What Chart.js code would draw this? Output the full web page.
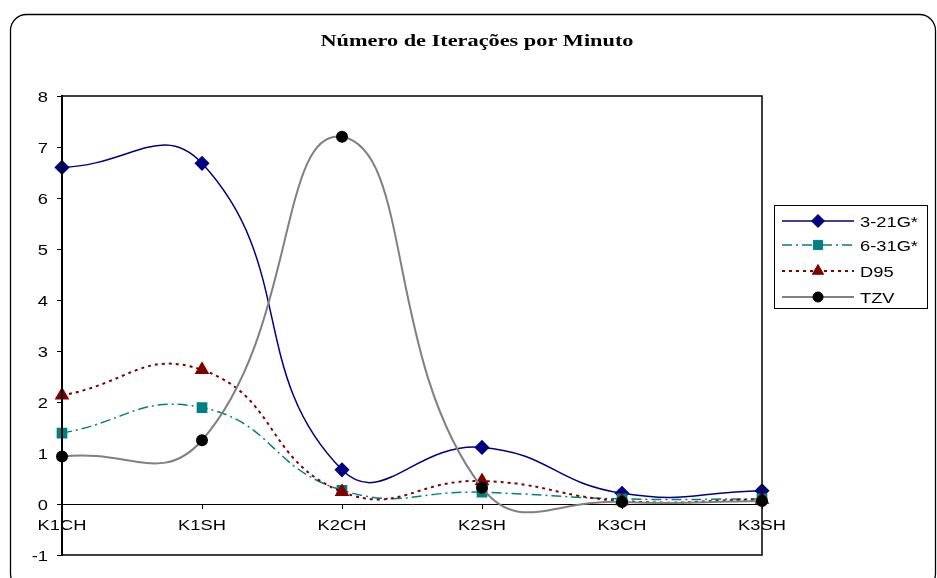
<!DOCTYPE html>
<html>
<head>
<meta charset="utf-8">
<script src="https://cdn.jsdelivr.net/npm/chart.js@4/dist/chart.umd.min.js"></script>
<style>
html,body{margin:0;padding:0;background:#fff;}
#wrap{width:937px;height:578px;position:relative;}
</style>
</head>
<body>
<div id="wrap"><canvas id="c" width="937" height="578"></canvas></div>
<script>
const chartTitle = 'Número de Iterações por Minuto';
const categories = ['K1CH', 'K1SH', 'K2CH', 'K2SH', 'K3CH', 'K3SH'];
const seriesNames = ['3-21G*', '6-31G*', 'D95', 'TZV'];
const values321 = [6.60, 6.68, 0.67, 1.11, 0.21, 0.26];
const values631 = [1.39, 1.89, 0.27, 0.23, 0.10, 0.10];
const valuesD95 = [2.13, 2.63, 0.24, 0.45, 0.06, 0.09];
const valuesTZV = [0.93, 1.25, 7.20, 0.32, 0.04, 0.06];
const yMin = -1, yMax = 8, yStep = 1;

const FONT = "'Liberation Sans', Arial, sans-serif";
const STRETCH = 1.22;

function stretchedText(ctx, text, x, y, align, font, sx) {
  ctx.save();
  ctx.font = font;
  ctx.fillStyle = '#000';
  ctx.textBaseline = 'alphabetic';
  ctx.textAlign = 'left';
  const w = ctx.measureText(text).width * sx;
  let left = x;
  if (align === 'center') left = x - w / 2;
  else if (align === 'right') left = x - w;
  ctx.translate(left, y);
  ctx.scale(sx, 1);
  ctx.fillText(text, 0, 0);
  ctx.restore();
}

const framePlugin = {
  id: 'frame',
  beforeDraw(chart) {
    const ctx = chart.ctx;
    ctx.save();
    ctx.fillStyle = '#fff';
    ctx.fillRect(0, 0, chart.width, chart.height);
    ctx.beginPath();
    ctx.roundRect(10.5, 14.5, 925, 575, 16);
    ctx.strokeStyle = '#000';
    ctx.lineWidth = 1.3;
    ctx.stroke();
    ctx.restore();
  },
  afterDraw(chart) {
    const ctx = chart.ctx;
    const a = chart.chartArea;
    ctx.save();
    ctx.strokeStyle = '#000';
    ctx.lineWidth = 1.5;
    ctx.strokeRect(a.left, a.top, a.right - a.left, a.bottom - a.top);
    ctx.beginPath();
    ctx.lineWidth = 2;
    ctx.moveTo(a.left, a.top);
    ctx.lineTo(a.left, a.bottom);
    ctx.stroke();
    ctx.restore();

    // title, stretched to reference width
    const tFont = "bold 16px 'Liberation Serif', 'Times New Roman', serif";
    ctx.save();
    ctx.font = tFont;
    const tw = ctx.measureText(chartTitle).width;
    ctx.restore();
    stretchedText(ctx, chartTitle, 477, 46, 'center', tFont, 313 / tw);

    // axis labels
    const xs = chart.scales.x, ys = chart.scales.y;
    const zeroY = ys.getPixelForValue(0);
    const lblFont = '15px ' + FONT;
    categories.forEach((c, i) => {
      stretchedText(ctx, c, xs.getPixelForValue(i), zeroY + 26, 'center', lblFont, STRETCH);
    });
    ys.ticks.forEach(t => {
      stretchedText(ctx, String(t.value), 48, ys.getPixelForValue(t.value) + 5.5, 'right', lblFont, STRETCH);
    });

    // legend
    ctx.save();
    const lx = 774.5, ly = 205.5, lw = 153, lh = 103;
    ctx.strokeStyle = '#000';
    ctx.lineWidth = 1;
    ctx.strokeRect(lx, ly, lw, lh);
    ctx.restore();
    const rows = [221, 245, 271, 297];
    chart.data.datasets.forEach((ds, i) => {
      const y = rows[i];
      ctx.save();
      ctx.strokeStyle = ds.borderColor;
      ctx.lineWidth = ds.borderWidth;
      ctx.setLineDash(ds.borderDash || []);
      ctx.beginPath();
      ctx.moveTo(782, y);
      ctx.lineTo(854, y);
      ctx.stroke();
      ctx.setLineDash([]);
      ctx.fillStyle = ds.pointBackgroundColor;
      ctx.strokeStyle = ds.pointBorderColor;
      ctx.lineWidth = 1;
      Chart.helpers.drawPoint(ctx, {pointStyle: ds.pointStyle, radius: ds.pointRadius, rotation: 0, borderWidth: 1}, 818, y);
      ctx.restore();
      stretchedText(ctx, ds.label, 860, y + 6, 'left', lblFont, STRETCH);
    });
  }
};

new Chart(document.getElementById('c'), {
  type: 'line',
  data: {
    labels: categories,
    datasets: [
      {label: seriesNames[0], data: values321, borderColor: '#000080', borderWidth: 1.5,
       pointStyle: 'rectRot', pointRadius: 6.5, pointBackgroundColor: '#000080', pointBorderColor: '#000080', order: 3},
      {label: seriesNames[1], data: values631, borderColor: '#008080', borderWidth: 1.5, borderDash: [10, 4, 2, 4],
       pointStyle: 'rect', pointRadius: 6.5, pointBackgroundColor: '#008080', pointBorderColor: '#008080', order: 2},
      {label: seriesNames[2], data: valuesD95, borderColor: '#800000', borderWidth: 2, borderDash: [3, 4],
       pointStyle: 'triangle', pointRadius: 6.5, pointBackgroundColor: '#800000', pointBorderColor: '#800000', order: 1},
      {label: seriesNames[3], data: valuesTZV, borderColor: '#808080', borderWidth: 2,
       pointStyle: 'circle', pointRadius: 5, pointBackgroundColor: '#000', pointBorderColor: '#000', order: 0}
    ]
  },
  options: {
    responsive: false,
    animation: false,
    devicePixelRatio: 1,
    elements: {line: {tension: 0.48, fill: false}, point: {borderWidth: 1}},
    layout: {padding: {left: 10, right: 175, top: 96, bottom: 23}},
    plugins: {legend: {display: false}, title: {display: false}, tooltip: {enabled: false}},
    scales: {
      x: {
        type: 'category',
        offset: false,
        position: {y: 0},
        grid: {display: true, drawOnChartArea: false, drawTicks: true, tickLength: 4, color: '#000'},
        border: {display: true, color: '#000', width: 1},
        ticks: {display: false, autoSkip: false}
      },
      y: {
        min: yMin, max: yMax,
        afterFit(s) { s.width = 52; },
        grid: {display: true, drawOnChartArea: false, drawTicks: true, tickLength: 5, color: '#000'},
        border: {display: true, color: '#000', width: 2},
        ticks: {display: false, stepSize: yStep}
      }
    }
  },
  plugins: [framePlugin]
});
</script>
</body>
</html>
